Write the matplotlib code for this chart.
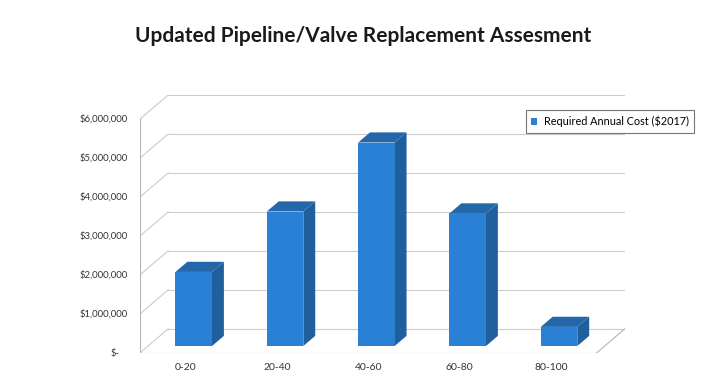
import matplotlib
matplotlib.use("Agg")
import matplotlib.pyplot as plt
from matplotlib.patches import Polygon, Rectangle

plt.rcParams['font.family'] = ['Lato', 'DejaVu Sans']

# data
categories = ['0-20', '20-40', '40-60', '60-80', '80-100']
annual_cost = [1900000, 3450000, 5220000, 3400000, 490000]
series_name = 'Required Annual Cost ($2017)'
y_ticks = [0, 1000000, 2000000, 3000000, 4000000, 5000000, 6000000]

# oblique depth of the chart box, in data units
DX = 0.31
DY = 620000
BAR_W = 0.40
BAR_FRONT = 0.29
BAR_DEPTH = 0.42

FRONT = '#2a80d4'
SIDE = '#1f5f9e'
TOP = '#2568aa'
GRID = '#cccccc'


def money(v):
    return '$-' if v == 0 else '${:,.0f}'.format(v)


fig = plt.figure(figsize=(7.1, 3.84), dpi=100)
fig.patch.set_facecolor('white')
ax = fig.add_axes([0.197, 0.0807, 0.683, 0.672])
n = len(categories)
ax.set_xlim(0, n + DX)
ax.set_ylim(0, y_ticks[-1] + DY)
ax.axis('off')

# back wall gridlines + slanted side wall lines
for v in y_ticks:
    ax.plot([DX, n + DX], [v + DY, v + DY], color=GRID, lw=0.8, zorder=1)
    ax.plot([0, DX], [v, v + DY], color=GRID, lw=0.8, zorder=1)
    ax.plot([-0.04, 0], [v, v], color='#a0a0a0', lw=0.8, zorder=1)
    ax.text(-0.22 if v == 0 else -0.13, v, money(v), ha='right', va='center',
            fontsize=6.8, color='#333333')

# front axis and floor
ax.plot([0, 0], [0, y_ticks[-1]], color='#b5b5b5', lw=0.8, zorder=1)
ax.plot([0, n], [0, 0], color='#b5b5b5', lw=0.8, zorder=1)
ax.plot([n, n + DX], [0, DY], color='#b5b5b5', lw=0.8, zorder=1)

# bars with side and top faces
for i, v in enumerate(annual_cost):
    x0 = i + 0.5 - BAR_W / 2 + BAR_FRONT * DX
    y0 = BAR_FRONT * DY
    ddx, ddy = BAR_DEPTH * DX, BAR_DEPTH * DY
    side = [(x0 + BAR_W, y0), (x0 + BAR_W + ddx, y0 + ddy),
            (x0 + BAR_W + ddx, y0 + v + ddy), (x0 + BAR_W, y0 + v)]
    top = [(x0, y0 + v), (x0 + BAR_W, y0 + v),
           (x0 + BAR_W + ddx, y0 + v + ddy), (x0 + ddx, y0 + v + ddy)]
    ax.add_patch(Polygon(side, closed=True, fc=SIDE, ec='none', zorder=3))
    ax.add_patch(Polygon(top, closed=True, fc=TOP, ec='none', zorder=3))
    ax.add_patch(Rectangle((x0, y0), BAR_W, v, fc=FRONT, ec='none', zorder=4))
    ax.text(i + 0.5, -380000, categories[i], ha='center', va='center',
            fontsize=7.5, color='#333333')

# legend
leg_handle = Rectangle((0, 0), 1, 1, fc=FRONT, ec='none')
leg = fig.legend([leg_handle], [series_name], loc='upper left',
                 bbox_to_anchor=(0.733, 0.727), fontsize=7.8, frameon=True,
                 fancybox=False, handlelength=0.55, handleheight=0.55,
                 handletextpad=0.6, borderpad=0.5)
leg.get_frame().set_edgecolor('#555555')
leg.get_frame().set_linewidth(0.8)

fig.text(0.512, 0.905, 'Updated Pipeline/Valve Replacement Assesment',
         ha='center', va='center', fontsize=15, fontweight='bold',
         color='#1a1a1a')

fig.savefig('out.png', dpi=100, facecolor='white')
